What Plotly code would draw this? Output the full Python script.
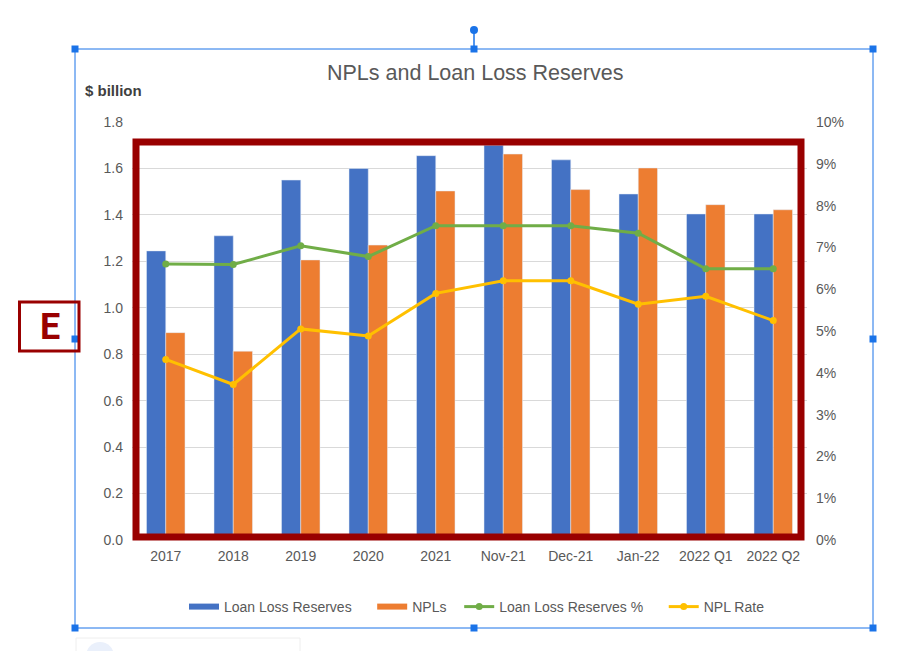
import plotly.graph_objects as go

# values
periods = ['2017', '2018', '2019', '2020', '2021', 'Nov-21', 'Dec-21', 'Jan-22', '2022 Q1', '2022 Q2']
loan_loss_reserves = [1.245, 1.31, 1.55, 1.60, 1.655, 1.70, 1.637, 1.49, 1.404, 1.404]   # $ billion
npls = [0.893, 0.813, 1.206, 1.27, 1.503, 1.662, 1.509, 1.602, 1.444, 1.422]            # $ billion
llr_pct = [6.60, 6.59, 7.04, 6.78, 7.52, 7.52, 7.52, 7.34, 6.49, 6.49]                  # %
npl_rate = [4.32, 3.72, 5.05, 4.88, 5.90, 6.20, 6.20, 5.64, 5.83, 5.25]                 # %

left_ticks = [0, 0.2, 0.4, 0.6, 0.8, 1.0, 1.2, 1.4, 1.6, 1.8]
right_ticks = [0, 1, 2, 3, 4, 5, 6, 7, 8, 9, 10]
right_labels = [f'{v}%' for v in right_ticks]

BLUE = '#4472C4'
ORANGE = '#ED7D31'
GREEN = '#70AD47'
YELLOW = '#FFC000'
GREY_TXT = '#595959'
DARK_RED = '#990000'
SEL_BLUE = '#1a73e8'

# the page puts the figure 8px in from the top-left corner
OFF = 8
W, H = 920 - OFF, 651 - OFF
PL, PR, PT, PB = 132, 807, 122, 540   # plot area in page pixels


def px(x):
    return (x - PL) / (PR - PL)


def py(y):
    return (PB - y) / (PB - PT)


fig = go.Figure()

fig.add_trace(go.Bar(x=periods, y=loan_loss_reserves, name='Loan Loss Reserves',
                     marker_color=BLUE, showlegend=False))
fig.add_trace(go.Bar(x=periods, y=npls, name='NPLs',
                     marker_color=ORANGE, showlegend=False))
fig.add_trace(go.Scatter(x=periods, y=llr_pct, name='Loan Loss Reserves %', yaxis='y2',
                         mode='lines+markers', line=dict(color=GREEN, width=3),
                         marker=dict(size=7, color=GREEN), showlegend=False))
fig.add_trace(go.Scatter(x=periods, y=npl_rate, name='NPL Rate', yaxis='y2',
                         mode='lines+markers', line=dict(color=YELLOW, width=3),
                         marker=dict(size=7, color=YELLOW), showlegend=False))

# legend-only entries (Excel style swatches), nbsp padding widens the gaps
pad = '\u00a0' * 4
fig.add_trace(go.Scatter(x=[None], y=[None], name='Loan Loss Reserves' + pad, mode='lines',
                         line=dict(color=BLUE, width=6)))
fig.add_trace(go.Scatter(x=[None], y=[None], name='NPLs' + '\u00a0' * 2, mode='lines',
                         line=dict(color=ORANGE, width=6)))
fig.add_trace(go.Scatter(x=[None], y=[None], name='Loan Loss Reserves %' + pad, mode='lines+markers',
                         line=dict(color=GREEN, width=3), marker=dict(size=7, color=GREEN)))
fig.add_trace(go.Scatter(x=[None], y=[None], name='NPL Rate', mode='lines+markers',
                         line=dict(color=YELLOW, width=3), marker=dict(size=7, color=YELLOW)))

shapes = []
# chart selection frame
shapes.append(dict(type='rect', xref='paper', yref='paper', x0=px(75), x1=px(873), y0=py(628), y1=py(49),
                   line=dict(color=SEL_BLUE, width=1), layer='above'))
shapes.append(dict(type='line', xref='paper', yref='paper', x0=px(474), x1=px(474), y0=py(49), y1=py(32),
                   line=dict(color=SEL_BLUE, width=1.5), layer='above'))
shapes.append(dict(type='circle', xref='paper', yref='paper', x0=px(470), x1=px(478), y0=py(34), y1=py(26),
                   fillcolor=SEL_BLUE, line=dict(color=SEL_BLUE, width=0), layer='above'))
for hx, hy in [(75, 49), (474, 49), (873, 49), (75, 339), (873, 339), (75, 628), (474, 628), (873, 628)]:
    shapes.append(dict(type='rect', xref='paper', yref='paper', x0=px(hx - 3.5), x1=px(hx + 3.5),
                       y0=py(hy + 3.5), y1=py(hy - 3.5), fillcolor=SEL_BLUE,
                       line=dict(color=SEL_BLUE, width=0), layer='above'))
# red highlight box over the plot
shapes.append(dict(type='rect', xref='paper', yref='paper', x0=px(136), x1=px(801), y0=py(537), y1=py(142),
                   line=dict(color=DARK_RED, width=7), layer='above'))
# "E" label box
shapes.append(dict(type='rect', xref='paper', yref='paper', x0=px(19.5), x1=px(79), y0=py(351), y1=py(302),
                   line=dict(color=DARK_RED, width=3), fillcolor='rgba(0,0,0,0)', layer='above'))
# faint panel peeking in at the bottom
shapes.append(dict(type='rect', xref='paper', yref='paper', x0=px(76), x1=px(300), y0=py(660), y1=py(638),
                   line=dict(color='#eeeeee', width=1), fillcolor='white', layer='above'))
shapes.append(dict(type='circle', xref='paper', yref='paper', x0=px(86), x1=px(114), y0=py(670), y1=py(642),
                   line=dict(width=0), fillcolor='#eaf0fb', layer='above'))

annotations = [
    dict(text='NPLs and Loan Loss Reserves', xref='paper', yref='paper', x=px(474.5), y=py(73),
         xanchor='center', yanchor='middle', showarrow=False,
         font=dict(size=21.5, color=GREY_TXT, family='Liberation Sans, Arial, sans-serif')),
    dict(text='<b>$ billion</b>', xref='paper', yref='paper', x=px(83), y=py(91),
         xanchor='left', yanchor='middle', showarrow=False,
         font=dict(size=15, color='#404040', family='Liberation Sans, Arial, sans-serif')),
    dict(text='<b>E</b>', xref='paper', yref='paper', x=px(50), y=py(327),
         xanchor='center', yanchor='middle', showarrow=False,
         font=dict(size=36, color=DARK_RED, family='Roboto, sans-serif')),
]

fig.update_layout(
    width=W, height=H,
    margin=dict(l=PL - OFF, r=920 - PR, t=PT - OFF, b=651 - PB, pad=0),
    autosize=False,
    paper_bgcolor='white', plot_bgcolor='white',
    font=dict(family='Liberation Sans, Arial, sans-serif', size=14, color=GREY_TXT),
    barmode='group', bargap=0.43, bargroupgap=0,
    xaxis=dict(range=[-0.5, len(periods) - 0.5], showgrid=False, showline=False, zeroline=False,
               ticks='', tickfont=dict(size=14, color=GREY_TXT), ticklabelstandoff=6),
    yaxis=dict(range=[0, 1.8], tickvals=left_ticks, tickformat='.1f', showgrid=True,
               gridcolor='#d9d9d9', gridwidth=1, zeroline=False, showline=False, ticks='',
               tickfont=dict(size=14, color=GREY_TXT), ticklabelstandoff=8),
    yaxis2=dict(range=[0, 10], tickmode='array', tickvals=right_ticks, ticktext=right_labels,
                overlaying='y', side='right',
                showgrid=False, zeroline=False, showline=False, ticks='',
                tickfont=dict(size=14, color=GREY_TXT), ticklabelstandoff=8),
    legend=dict(orientation='h', x=px(477), xanchor='center', y=py(607), yanchor='middle',
                font=dict(size=14, color=GREY_TXT), bgcolor='rgba(0,0,0,0)', itemwidth=30),
    shapes=shapes,
    annotations=annotations,
)

fig.write_html("out.html")
